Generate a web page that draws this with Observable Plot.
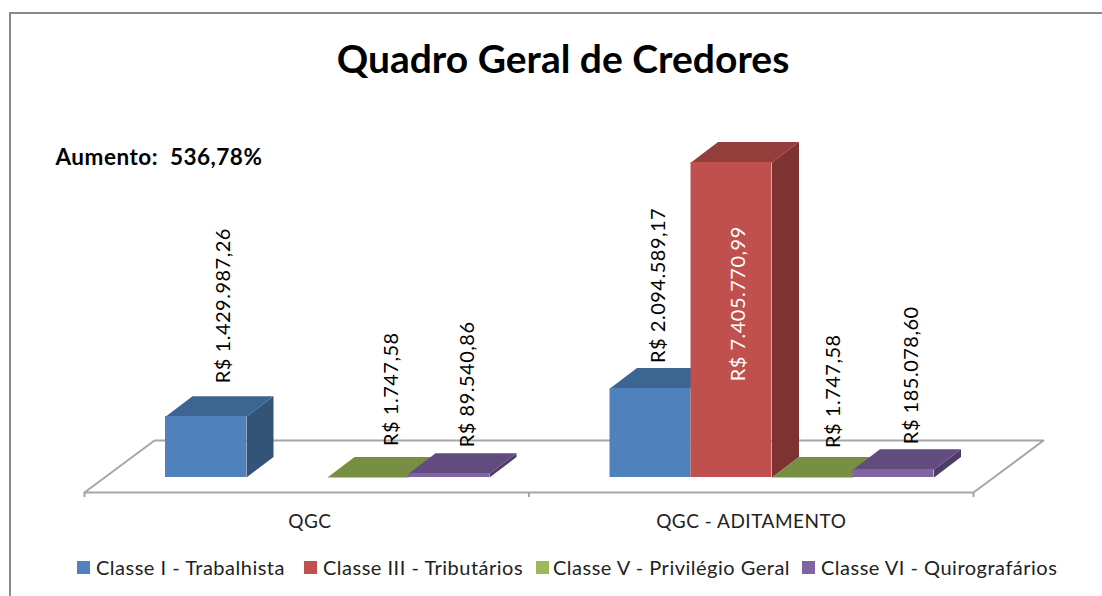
<!DOCTYPE html>
<html lang="pt"><head><meta charset="utf-8">
<script src="https://cdn.jsdelivr.net/npm/d3@7"></script>
<script src="https://cdn.jsdelivr.net/npm/@observablehq/plot@0.6"></script>
<style>
html,body{margin:0;padding:0;background:#fff}
#page{position:relative;width:1102px;height:596px;overflow:hidden;font-family:Lato,sans-serif;color:#000}
#frameT{position:absolute;left:9px;top:12px;right:0;height:2px;background:#8a8a8a}
#frameL{position:absolute;left:9px;top:12px;bottom:0;width:2px;background:#8a8a8a}
#title{height:100px;box-sizing:border-box;padding-top:36px;padding-left:24px;text-align:center;font-weight:700;font-size:39px;line-height:44px}
#chart svg{display:block;overflow:hidden}
#chart text{letter-spacing:.5px}
#legend{position:relative;height:56px;font-size:20px;letter-spacing:.5px;color:#222}
#legend .it{position:absolute;top:17px;white-space:nowrap;line-height:20px}
#legend .sw{position:absolute;left:0;top:4px;width:13px;height:13px}
#legend .tx{position:absolute;top:0}
</style></head><body>
<div id="page">
<div id="frameT"></div><div id="frameL"></div>
<div id="title">Quadro Geral de Credores</div>
<div id="chart"></div>
<div id="legend"></div>
</div>
<script>
const categories = ["QGC", "QGC - ADITAMENTO"];
const classes = ["Classe I - Trabalhista", "Classe III - Tributários", "Classe V - Privilégio Geral", "Classe VI - Quirografários"];
const qgcValues = [1429987.26, 0, 1747.58, 89540.86];
const aditamentoValues = [2094589.17, 7405770.99, 1747.58, 185078.60];
const qgcLabels = ["R$ 1.429.987,26", null, "R$ 1.747,58", "R$ 89.540,86"];
const aditamentoLabels = ["R$ 2.094.589,17", "R$ 7.405.770,99", "R$ 1.747,58", "R$ 185.078,60"];
const note = "Aumento:  536,78%";

// styles
const frontColors = ["#4f81bd", "#c0504d", "#9bbb59", "#8064a2"];
const topColors = ["#3d6591", "#943e3b", "#768f43", "#624b7e"];
const sideColors = ["#335377", "#7c3331", "#62763a", "#4f3c66"];
const labelColors = ["#000", "#fff", "#000", "#000"];

// layout (pixels -> data units)
const W = 1102, H = 440;
const maxV = 7405770.99;
const pxPerReal = 315 / maxV, pxPerCat = 444.5;
const barW = 81 / pxPerCat, gapW = 81 / pxPerCat;
const depthX = 27 / pxPerCat, depthY = 20.5 / pxPerReal;
const floorLow = -15 / pxPerReal, floorHigh = 37 / pxPerReal, floorDX = 70 / pxPerCat;
// label nudges per bar: [dx, dy]
const nudges = [[[18,-13],[0,0],[24,-11],[19,-6]], [[8,-5],[7,0],[21,-9],[18,-5]]];
const redLabelY = 2260000;

const bars = [];
[qgcValues, aditamentoValues].forEach((vals, c) => vals.forEach((v, s) => {
  bars.push({c, s, v, label: (c ? aditamentoLabels : qgcLabels)[s], x0: c + gapW + s * barW, x1: c + gapW + (s + 1) * barW});
}));

const poly = pts => pts.map(([x, y]) => ({x, y}));
const floor = poly([[0, floorLow], [2, floorLow], [2 + floorDX, floorHigh], [floorDX, floorHigh], [0, floorLow]]);

const marks = [
  Plot.line(floor, {x: "x", y: "y", fill: "#fff", stroke: "#a6a6a6", strokeWidth: 2}),
  Plot.ruleX([0, 1, 2], {y1: floorLow, y2: floorLow - 5 / pxPerReal, stroke: "#a6a6a6", strokeWidth: 2}),
  Plot.axisX({ticks: [0.507, 1.5], tickFormat: d => categories[Math.floor(d)], tickSize: 0, label: null, dy: -26, fontSize: 19, fill: "#222", tickPadding: 0})
];

for (const b of bars) {
  if (b.v === 0) continue;
  marks.push(
    Plot.line(poly([[b.x1, 0], [b.x1 + depthX, depthY], [b.x1 + depthX, b.v + depthY], [b.x1, b.v], [b.x1, 0]]),
      {x: "x", y: "y", fill: sideColors[b.s], stroke: "none"}),
    Plot.line(poly([[b.x0, b.v], [b.x1, b.v], [b.x1 + depthX, b.v + depthY], [b.x0 + depthX, b.v + depthY], [b.x0, b.v]]),
      {x: "x", y: "y", fill: topColors[b.s], stroke: "none"}),
    Plot.rect([b], {x1: "x0", x2: "x1", y1: 0, y2: "v", fill: frontColors[b.s]})
  );
}

for (const b of bars) {
  if (!b.label) continue;
  const [dx, dy] = nudges[b.c][b.s];
  const inside = b.s === 1;
  marks.push(Plot.text([b], {
    x: d => (d.x0 + d.x1) / 2,
    y: d => inside ? redLabelY : d.v + depthY,
    text: "label", rotate: -90, textAnchor: "start", lineAnchor: "middle",
    dx, dy, fontSize: 20, fill: labelColors[b.s]
  }));
}

marks.push(Plot.text([note], {frameAnchor: "top-left", dx: 55, dy: 49, fontSize: 22.5, fontWeight: 700, fill: "#000", textAnchor: "start", lineAnchor: "top"}));

const chart = Plot.plot({
  width: W, height: H,
  marginTop: 0, marginRight: 0, marginBottom: 0, marginLeft: 0,
  style: {fontFamily: "Lato, sans-serif", background: "transparent", overflow: "hidden"},
  x: {domain: [0, 2], range: [84, 973], axis: null},
  y: {domain: [0, maxV], range: [377, 62], axis: null},
  marks
});
document.getElementById("chart").append(chart);

const legendX = [77, 304, 536, 802];
const legendEl = document.getElementById("legend");
classes.forEach((name, i) => {
  const it = document.createElement("div");
  it.className = "it"; it.style.left = legendX[i] + "px";
  const sw = document.createElement("span"); sw.className = "sw"; sw.style.background = frontColors[i];
  const tx = document.createElement("span"); tx.className = "tx"; tx.style.left = (i === 2 ? 17 : 19) + "px"; tx.textContent = name;
  it.append(sw, tx); legendEl.append(it);
});
</script>
</body></html>
